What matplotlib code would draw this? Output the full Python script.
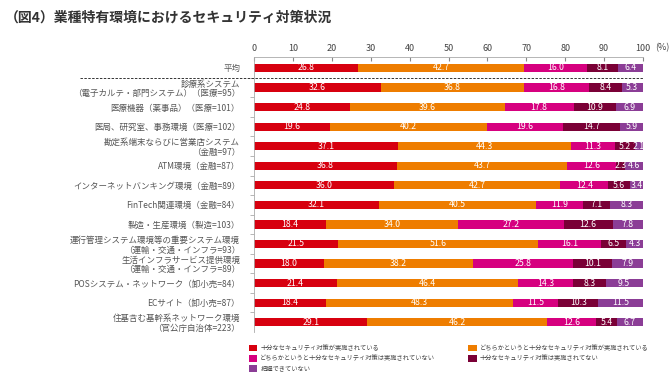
import numpy as np
import matplotlib
matplotlib.use("Agg")
import matplotlib.pyplot as plt
from matplotlib.transforms import blended_transform_factory

plt.rcParams['font.family'] = ['Noto Sans CJK JP', 'DejaVu Sans']

# categories (top to bottom)
categories = [
    "平均",
    "診療系システム\n（電子カルテ・部門システム）（医療=95）",
    "医療機器（薬事品）（医療=101）",
    "医局、研究室、事務環境（医療=102）",
    "勘定系端末ならびに営業店システム\n（金融=97）",
    "ATM環境（金融=87）",
    "インターネットバンキング環境（金融=89）",
    "FinTech関連環境（金融=84）",
    "製造・生産環境（製造=103）",
    "運行管理システム環境等の重要システム環境\n（運輸・交通・インフラ=93）",
    "生活インフラサービス提供環境\n（運輸・交通・インフラ=89）",
    "POSシステム・ネットワーク（卸小売=84）",
    "ECサイト（卸小売=87）",
    "住基含む基幹系ネットワーク環境\n（官公庁自治体=223）",
]

sufficient = [26.8, 32.6, 24.8, 19.6, 37.1, 36.8, 36.0, 32.1, 18.4, 21.5, 18.0, 21.4, 18.4, 29.1]
rather_sufficient = [42.7, 36.8, 39.6, 40.2, 44.3, 43.7, 42.7, 40.5, 34.0, 51.6, 38.2, 46.4, 48.3, 46.2]
rather_not = [16.0, 16.8, 17.8, 19.6, 11.3, 12.6, 12.4, 11.9, 27.2, 16.1, 25.8, 14.3, 11.5, 12.6]
not_done = [8.1, 8.4, 10.9, 14.7, 5.2, 2.3, 5.6, 7.1, 12.6, 6.5, 10.1, 8.3, 10.3, 5.4]
unknown = [6.4, 5.3, 6.9, 5.9, 2.1, 4.6, 3.4, 8.3, 7.8, 4.3, 7.9, 9.5, 11.5, 6.7]

series_names = [
    "十分なセキュリティ対策が実施されている",
    "どちらかというと十分なセキュリティ対策は実施されていない",
    "把握できていない",
    "どちらかというと十分なセキュリティ対策が実施されている",
    "十分なセキュリティ対策は実施されてない",
]

colors = {
    "sufficient": "#d7000f",
    "rather_sufficient": "#ee7d00",
    "rather_not": "#d6007f",
    "not_done": "#7a0036",
    "unknown": "#8b3d96",
}

fig = plt.figure(figsize=(6.7, 3.78), dpi=100)
ax = fig.add_axes([254 / 670, 1 - 332 / 378, (643 - 254) / 670, (332 - 57) / 378])

y = np.arange(len(categories))
left = np.zeros(len(categories))
series = [
    (sufficient, colors["sufficient"], series_names[0]),
    (rather_sufficient, colors["rather_sufficient"], series_names[3]),
    (rather_not, colors["rather_not"], series_names[1]),
    (not_done, colors["not_done"], series_names[4]),
    (unknown, colors["unknown"], series_names[2]),
]
handles = {}
for vals, col, name in series:
    vals = np.array(vals)
    bars = ax.barh(y, vals, left=left, height=0.42, color=col, edgecolor='none', label=name)
    handles[name] = bars
    for yi, l, v in zip(y, left, vals):
        ax.text(l + v / 2, yi, f"{v:.1f}", ha='center', va='center',
                color='white', fontsize=6.3)
    left += vals

ax.set_xlim(0, 100)
ax.set_ylim(len(categories) - 0.5, -0.56)
ax.xaxis.tick_top()
ax.set_xticks(np.arange(0, 101, 10))
ax.tick_params(axis='x', colors='#888888', labelcolor='#444444', labelsize=6.5,
               length=3, direction='in', pad=3)
ax.set_yticks(y)
ax.set_yticklabels(categories, fontsize=6.1, color='#555555', linespacing=1.1)
ax.tick_params(axis='y', length=0, pad=10)
ax.set_yticks(np.arange(0.5, len(categories) - 0.5, 1), minor=True)
ax.tick_params(axis='y', which='minor', length=3, color='#aaaaaa')
for s in ['right', 'bottom']:
    ax.spines[s].set_visible(False)
ax.spines['top'].set_color('#aaaaaa')
ax.spines['left'].set_color('#aaaaaa')
ax.spines['top'].set_linewidth(0.6)
ax.spines['left'].set_linewidth(0.6)

ax.text(103.0, 1.035, "(%)", transform=blended_transform_factory(ax.transData, ax.transAxes),
        fontsize=6.5, color='#444444', va='center', ha='left', clip_on=False)

# dashed separator below 平均
tr = blended_transform_factory(fig.transFigure, ax.transData)
ax.plot([80 / 670, 643 / 670], [0.5, 0.5], transform=tr, color='#333333',
        lw=0.7, ls=(0, (2.5, 1.5)), clip_on=False)

fig.text(5 / 670, 1 - 18 / 378, "（図4）業種特有環境におけるセキュリティ対策状況",
         fontsize=10, fontweight='bold', color='#333333', va='center', ha='left')

order = [series_names[0], series_names[1], series_names[2], series_names[3], series_names[4]]
fig.legend([handles[n] for n in order], order, loc='upper left',
           bbox_to_anchor=(249 / 670, 1 - 344 / 378), ncol=2, frameon=False,
           fontsize=4.5, handlelength=1.3, handleheight=1.3, handletextpad=0.5,
           labelspacing=0.35, columnspacing=5.3, labelcolor='#444444',
           borderaxespad=0, borderpad=0)

fig.savefig("out.png", dpi=100)
